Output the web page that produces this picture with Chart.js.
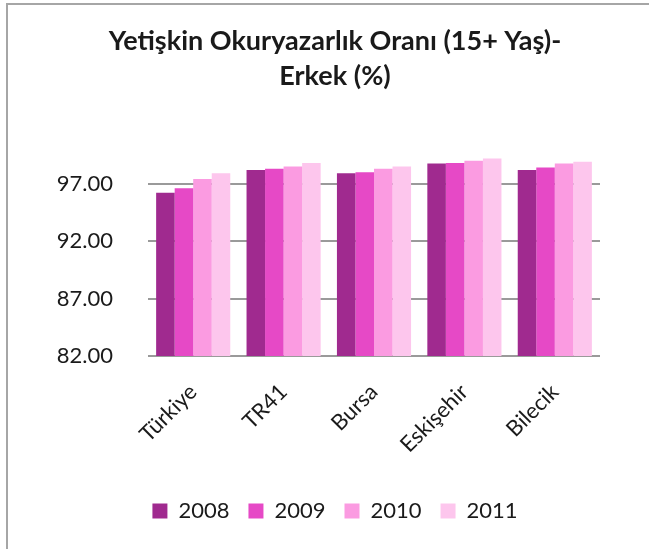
<!DOCTYPE html>
<html>
<head>
<meta charset="utf-8">
<script src="https://cdn.jsdelivr.net/npm/chart.js@4"></script>
<style>
  body { margin: 0; overflow: hidden; background: #fff; }
  #frame { position: absolute; left: 6px; top: 3px; width: 700px; height: 600px; border: 2px solid #a6a6a6; }
  #wrap { position: absolute; left: 0; top: 0; width: 670px; height: 549px; }
</style>
</head>
<body>
<div id="frame"></div>
<div id="wrap"><canvas id="graph1"></canvas></div>
<script>
const categories = ['Türkiye', 'TR41', 'Bursa', 'Eskişehir', 'Bilecik'];
const years = ['2008', '2009', '2010', '2011'];
const values2008 = [96.2, 98.2, 97.9, 98.75, 98.2];
const values2009 = [96.6, 98.3, 98.0, 98.8, 98.4];
const values2010 = [97.4, 98.5, 98.3, 99.0, 98.75];
const values2011 = [97.9, 98.8, 98.5, 99.2, 98.9];
const yTicks = [82, 87, 92, 97];
const colors = ['#a02a8f', '#e649c6', '#fb9be1', '#fdc6ed'];

const seriesList = [values2008, values2009, values2010, values2011];

document.addEventListener('DOMContentLoaded', function() {
  const ctx1 = document.getElementById('graph1').getContext('2d');
  new Chart(ctx1, {
    type: 'bar',
    data: {
      labels: categories,
      datasets: years.map((y, i) => ({
        label: y,
        data: seriesList[i],
        backgroundColor: colors[i],
        borderWidth: 0
      }))
    },
    options: {
      responsive: true,
      maintainAspectRatio: false,
      animation: false,
      layout: { padding: { bottom: 17 } },
      plugins: {
        title: {
          display: true,
          text: ['Yetişkin Okuryazarlık Oranı (15+ Yaş)-', 'Erkek (%)'],
          color: '#1a1a1a',
          font: { family: 'Lato', size: 27, weight: 'bold', lineHeight: 1.3 },
          padding: { top: 24, bottom: 55 }
        },
        legend: {
          position: 'bottom',
          labels: {
            color: '#1a1a1a',
            font: { family: 'Lato', size: 22 },
            boxWidth: 15,
            boxHeight: 15,
            padding: 19
          }
        },
        tooltip: { enabled: false }
      },
      datasets: { bar: { categoryPercentage: 0.82, barPercentage: 1 } },
      scales: {
        x: {
          grid: { display: false },
          border: { display: false },
          afterFit: function(axis) { axis.height = 125; },
          ticks: {
            color: '#1a1a1a',
            font: { family: 'Lato', size: 22 },
            minRotation: 45,
            maxRotation: 45,
            padding: 15
          }
        },
        y: {
          min: 82,
          max: 100,
          afterBuildTicks: function(axis) {
            axis.ticks = yTicks.map(v => ({ value: v }));
          },
          afterFit: function(axis) { axis.width = 148; },
          grid: { color: '#9a9a9a', lineWidth: 2, drawTicks: false },
          border: { display: false },
          ticks: {
            color: '#1a1a1a',
            font: { family: 'Lato', size: 22 },
            padding: 35,
            callback: v => v.toFixed(2)
          }
        },
        // empty right-hand space so the title and legend centre like the original
        spacer: {
          position: 'right',
          grid: { display: false },
          border: { display: false },
          ticks: { display: false },
          afterFit: function(axis) { axis.width = 70; }
        }
      }
    }
  });
});
</script>
</body>
</html>
